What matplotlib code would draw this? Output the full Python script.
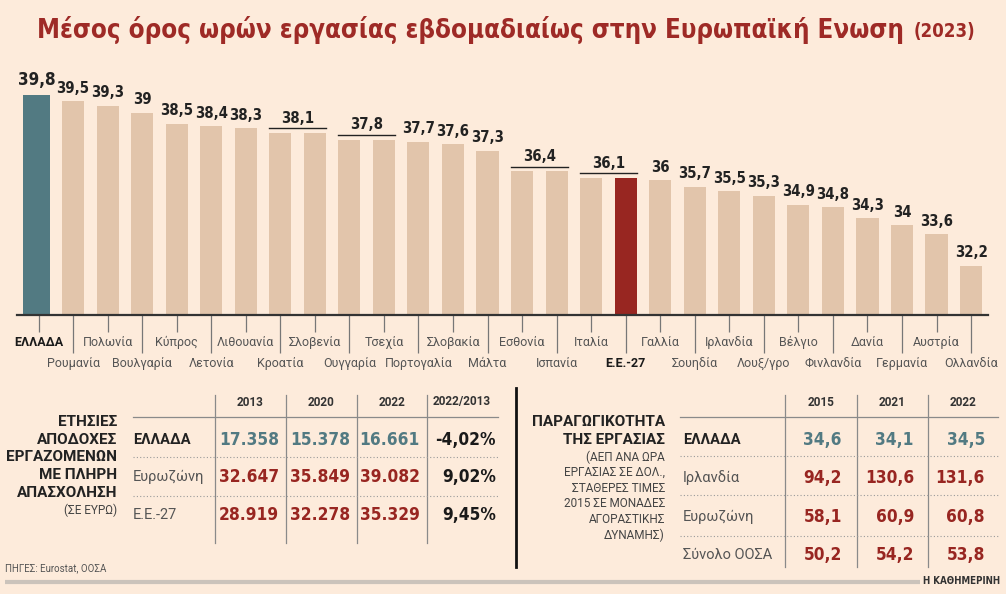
import numpy as np
import matplotlib.pyplot as plt
from matplotlib import font_manager

W, H = 1006, 594
BG = '#fdebdb'
TAN = '#e2c5ab'
TEAL = '#527a82'
RED = '#982621'
LABF = ['Roboto', 'DejaVu Sans']

# pick the narrowest bold face that is installed
NB = dict(family=['DejaVu Sans'], weight='bold', fontstretch='condensed')
for fam, st in [('Noto Sans', 'extra-condensed'), ('Noto Sans', 'condensed')]:
    p = font_manager.findfont(font_manager.FontProperties(family=fam, weight='bold', stretch=st),
                              fallback_to_default=False)
    if 'ondensed' in p:
        NB = dict(family=[fam], weight='bold', fontstretch=st)
        break

# weekly working hours, 2023
countries = ['ΕΛΛΑΔΑ', 'Ρουμανία', 'Πολωνία', 'Βουλγαρία', 'Κύπρος', 'Λετονία',
             'Λιθουανία', 'Κροατία', 'Σλοβενία', 'Ουγγαρία', 'Τσεχία', 'Πορτογαλία',
             'Σλοβακία', 'Μάλτα', 'Εσθονία', 'Ισπανία', 'Ιταλία', 'Ε.Ε.-27',
             'Γαλλία', 'Σουηδία', 'Ιρλανδία', 'Λουξ/γρο', 'Βέλγιο', 'Φινλανδία',
             'Δανία', 'Γερμανία', 'Αυστρία', 'Ολλανδία']
hours = [39.8, 39.5, 39.3, 39, 38.5, 38.4, 38.3, 38.1, 38.1, 37.8, 37.8, 37.7,
         37.6, 37.3, 36.4, 36.4, 36.1, 36.1, 36, 35.7, 35.5, 35.3, 34.9, 34.8,
         34.3, 34, 33.6, 32.2]

# annual pay table
pay_years = ['2013', '2020', '2022', '2022/2013']
pay_rows = ['ΕΛΛΑΔΑ', 'Ευρωζώνη', 'Ε.Ε.-27']
pay = [[17358, 15378, 16661],
       [32647, 35849, 39082],
       [28919, 32278, 35329]]
pay_change = [-4.02, 9.02, 9.45]

# productivity table
prod_years = ['2015', '2021', '2022']
prod_rows = ['ΕΛΛΑΔΑ', 'Ιρλανδία', 'Ευρωζώνη', 'Σύνολο ΟΟΣΑ']
prod = [[34.6, 34.1, 34.5],
        [94.2, 130.6, 131.6],
        [58.1, 60.9, 60.8],
        [50.2, 54.2, 53.8]]


def gr(v):
    s = f'{v:.1f}'.replace('.', ',')
    return s[:-2] if s.endswith(',0') else s


fig = plt.figure(figsize=(W / 100, H / 100), dpi=100, facecolor=BG)
rend = fig.canvas.get_renderer()


def fit(s, target, cap=None, **kw):
    # font size that makes s about target px wide (not taller than cap pt)
    t = fig.text(0, 0, s, fontsize=10, **kw)
    w = t.get_window_extent(rend).width
    t.remove()
    size = 10 * target / w
    return min(size, cap) if cap else size


# bar chart axes (pixel layout)
x = np.arange(len(hours))
px0, px1, base, top = 17, 988, 315, 60
step = 34.54
c0 = 38.5
ax = fig.add_axes([px0 / W, 1 - base / H, (px1 - px0) / W, (base - top) / H])
ax.set_facecolor('none')
ax.set_xlim((px0 - c0) / step, (px1 - c0) / step)
ax.set_ylim(30, 30 + (base - top) / 22.5)

colors = [TAN] * len(hours)
colors[0] = TEAL
colors[countries.index('Ε.Ε.-27')] = RED
widths = [0.64] * len(hours)
widths[0] = 0.78
xs = x.astype(float)
xs[0] = -0.06
ax.bar(xs, hours, width=widths, color=colors, linewidth=0)

for s in ['top', 'right', 'left']:
    ax.spines[s].set_visible(False)
ax.spines['bottom'].set_color('#333333')
ax.spines['bottom'].set_linewidth(1.6)
ax.set_yticks([])

ax.set_xticks(x[0::2], labels=countries[0::2])
ax.set_xticks(x[1::2], labels=countries[1::2], minor=True)
ax.tick_params(axis='x', which='major', length=12, width=0.9, color='#777777',
               pad=3, labelsize=9, labelcolor='#555555')
ax.tick_params(axis='x', which='minor', length=27, width=0.9, color='#777777',
               pad=3, labelsize=9, labelcolor='#555555')
for lab in ax.get_xticklabels(which='both'):
    lab.set_family(LABF)
    if lab.get_text() in ('ΕΛΛΑΔΑ', 'Ε.Ε.-27'):
        lab.set_fontweight('bold')
        lab.set_color('#1a1a1a')

# value labels, with a bracket for equal neighbours
vsize = fit('39,5', 33, cap=14, **NB)
i = 0
while i < len(hours):
    j = i
    while j + 1 < len(hours) and hours[j + 1] == hours[i]:
        j += 1
    xc = (xs[i] + xs[j]) / 2
    if j > i:
        y_br = hours[i] + 0.2
        ax.plot([xs[i] - widths[i] / 2, xs[j] + widths[j] / 2], [y_br, y_br],
                color='#222222', lw=1.0)
        ax.annotate(gr(hours[i]), (xc, y_br), xytext=(0, 4), textcoords='offset points',
                    ha='center', va='baseline', fontsize=vsize, color='#222222', **NB)
    else:
        ax.annotate(gr(hours[i]), (xc, hours[i]), xytext=(0, 6 if i else 7),
                    textcoords='offset points', ha='center', va='baseline',
                    fontsize=vsize * 1.14 if i == 0 else vsize, color='#222222', **NB)
    i = j + 1

# overlay in pixel coordinates for title and tables
ov = fig.add_axes([0, 0, 1, 1])
ov.set_xlim(0, W)
ov.set_ylim(H, 0)
ov.axis('off')
ov.set_facecolor('none')

title = 'Μέσος όρος ωρών εργασίας εβδομαδιαίως στην Ευρωπαϊκή Ενωση'
tsize = fit(title, 866, cap=24, **NB)
ov.text(37, 30, title, fontsize=tsize, color='#9e2a26', va='center', **NB)
ysize = fit('(2023)', 62, cap=17, **NB)
ov.text(975, 32, '(2023)', fontsize=ysize, color='#9e2a26', va='center', ha='right', **NB)

valsize = fit('17.358', 60, cap=19, **NB)

# ---- left table
lx_sep = [215, 286, 357, 427]
lx_val = [279, 350, 420, 496]
lx_head = [250, 321, 392, 462]
l_rows_y = [440, 477, 515]
for xx in lx_sep:
    ov.plot([xx, xx], [395, 543], color='#8a8a8a', lw=0.9)
ov.plot([133, 498], [417, 417], color='#8a8a8a', lw=0.9)
for yy in [457, 496]:
    ov.plot([133, 498], [yy, yy], color='#9a9a9a', lw=0.8, ls=(0, (1, 2)))
for xx, yr in zip(lx_head, pay_years):
    ov.text(xx, 402, yr, ha='center', va='center', family=LABF, weight='bold',
            fontsize=8.5, color='#333333')
for r, (name, yy) in enumerate(zip(pay_rows, l_rows_y)):
    bold = r == 0
    ov.text(133, yy, name, va='center', family=LABF, fontsize=10.5,
            weight='bold' if bold else 'normal', color='#222222' if bold else '#555555')
    for k in range(3):
        ov.text(lx_val[k], yy, f'{pay[r][k]:,}'.replace(',', '.'), ha='right', va='center',
                fontsize=valsize, color=TEAL if bold else RED, **NB)
    ov.text(lx_val[3], yy, f'{pay_change[r]:.2f}%'.replace('.', ','), ha='right',
            va='center', fontsize=valsize, color='#1a1a1a', **NB)

left_title = ['ΕΤΗΣΙΕΣ', 'ΑΠΟΔΟΧΕΣ', 'ΕΡΓΑΖΟΜΕΝΩΝ', 'ΜΕ ΠΛΗΡΗ', 'ΑΠΑΣΧΟΛΗΣΗ']
for k, s in enumerate(left_title):
    ov.text(117, 422 + k * 17.7, s, ha='right', va='center', family=LABF,
            weight='bold', fontsize=11, color='#222222')
ov.text(117, 510, '(ΣΕ ΕΥΡΩ)', ha='right', va='center', family=LABF,
        fontsize=8.5, color='#444444')

# ---- right table
ov.plot([516, 516], [388, 567], color='#111111', lw=2)
rx_sep = [785, 857, 928]
rx_val = [842, 914, 985]
rx_head = [821, 892, 963]
r_rows_y = [440, 478, 517, 555]
for xx in rx_sep:
    ov.plot([xx, xx], [395, 567], color='#8a8a8a', lw=0.9)
ov.plot([680, 998], [417, 417], color='#8a8a8a', lw=0.9)
for yy in [456, 495, 536]:
    ov.plot([680, 998], [yy, yy], color='#9a9a9a', lw=0.8, ls=(0, (1, 2)))
for xx, yr in zip(rx_head, prod_years):
    ov.text(xx, 402, yr, ha='center', va='center', family=LABF, weight='bold',
            fontsize=8.5, color='#333333')
for r, (name, yy) in enumerate(zip(prod_rows, r_rows_y)):
    bold = r == 0
    ov.text(683, yy, name, va='center', family=LABF, fontsize=10.5,
            weight='bold' if bold else 'normal', color='#222222' if bold else '#555555')
    for k in range(3):
        ov.text(rx_val[k], yy, f'{prod[r][k]:.1f}'.replace('.', ','), ha='right',
                va='center', fontsize=valsize, color=TEAL if bold else RED, **NB)

right_title = ['ΠΑΡΑΓΩΓΙΚΟΤΗΤΑ', 'ΤΗΣ ΕΡΓΑΣΙΑΣ']
for k, s in enumerate(right_title):
    ov.text(665, 422 + k * 18, s, ha='right', va='center', family=LABF,
            weight='bold', fontsize=11, color='#222222')
right_sub = ['(ΑΕΠ ΑΝΑ ΩΡΑ', 'ΕΡΓΑΣΙΑΣ ΣΕ ΔΟΛ.,', 'ΣΤΑΘΕΡΕΣ ΤΙΜΕΣ',
             '2015 ΣΕ ΜΟΝΑΔΕΣ', 'ΑΓΟΡΑΣΤΙΚΗΣ', 'ΔΥΝΑΜΗΣ)']
for k, s in enumerate(right_sub):
    ov.text(665, 457 + k * 15.6, s, ha='right', va='center', family=LABF,
            fontsize=8.5, color='#444444')

# footer
ov.text(5, 568, 'ΠΗΓΕΣ: Eurostat, ΟΟΣΑ', va='center', family=LABF, fontsize=7,
        color='#555555')
ov.plot([5, 920], [582, 582], color='#cbc3bb', lw=3, solid_capstyle='butt')
ov.text(1000, 581, 'Η ΚΑΘΗΜΕΡΙΝΗ', ha='right', va='center', fontsize=7, **NB,
        color='#333333')

fig.savefig('out.png', dpi=100, facecolor=BG)
